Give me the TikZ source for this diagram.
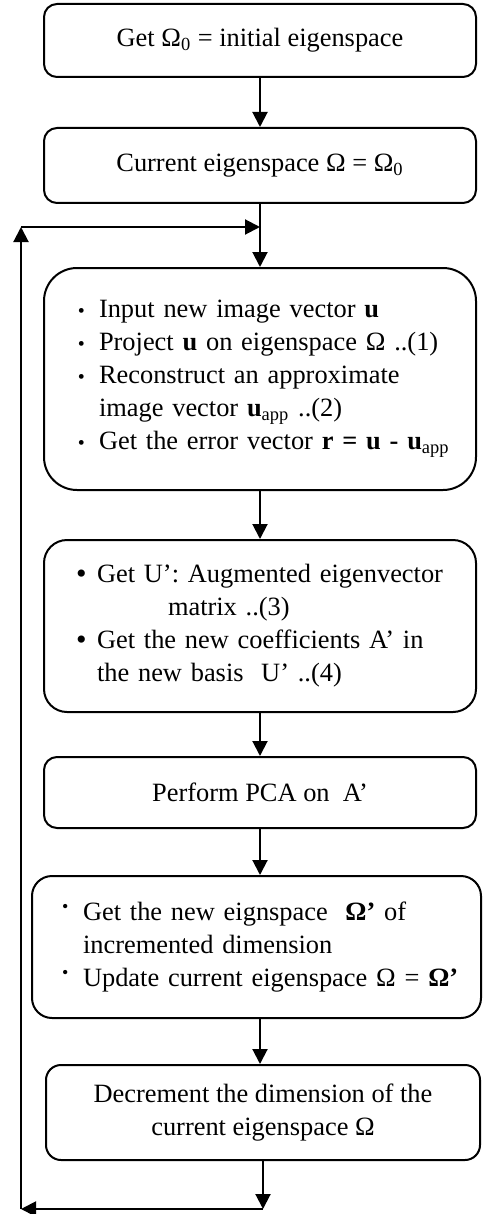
\documentclass[tikz,border=0pt]{standalone}
\usepackage{fontspec}
\setmainfont{Liberation Serif}
\usetikzlibrary{arrows.meta}
\newcommand\pointitem[3]{\noindent\leftskip=#1\hangindent=10.5pt\hangafter=1\makebox[10.5pt][l]{#2}#3\par}
\newcommand\lowdot{\raisebox{0pt}{\fontsize{10}{10}\selectfont\textbullet}}
\newcommand\bigdot{\raisebox{-0.5pt}{\fontsize{15}{15}\selectfont\textbullet}}
\newcommand\highdot{\raisebox{4pt}{\fontsize{9}{9}\selectfont\textbullet}}
\begin{document}
\begin{tikzpicture}[x=1pt, y=-1pt,
    stage/.style={draw, line width=1pt, rounded corners=6.5pt, minimum width=216pt,
        font=\fontsize{13.2}{16.5}\selectfont, align=center},
    listing/.style={stage, align=left, inner xsep=5pt, text width=206pt},
    flow/.style={line width=1pt, -{Triangle[length=7.5pt, width=7.5pt]}}]
    \useasboundingbox (0,0) rectangle (241,607);
    \node [stage, minimum height=36.5pt] (init) at (130,20.25)
        {Get Ω\textsubscript{0} = initial eigenspace};
    \node [stage, minimum height=37.5pt] (current) at (130,82.75)
        {Current eigenspace Ω = Ω\textsubscript{0}};
    \node [listing, rounded corners=16.5pt, minimum height=111pt] (project) at (130,189.5) {%
        \pointitem{12pt}{\lowdot}{Input new image vector \textbf{u}}
        \pointitem{12pt}{\lowdot}{Project \textbf{u} on eigenspace Ω ..(1)}
        \pointitem{12pt}{\lowdot}{Reconstruct an approximate\newline image vector \textbf{u}\textsubscript{app} ..(2)}
        \pointitem{12pt}{\lowdot}{Get the error vector \textbf{r = u - u}\textsubscript{app}}
        \vspace{15pt}};
    \node [listing, rounded corners=11.5pt, minimum height=86pt] (augment) at (130,313) {%
        \pointitem{11pt}{\bigdot}{Get U’: Augmented eigenvector\newline\hspace*{35.5pt}matrix ..(3)}
        \pointitem{11pt}{\bigdot}{Get the new coefficients A’ in\newline the new basis~ U’ ..(4)}};
    \node [stage, minimum height=35.5pt] (pca) at (130,396.25) {Perform PCA on~ A’};
    \node [listing, rounded corners=10pt, minimum height=71pt, minimum width=224.5pt, text width=214.5pt]
        (update) at (128.25,473.5) {%
        \pointitem{10pt}{\highdot}{Get the new eignspace~ \textbf{Ω’} of\newline incremented dimension}
        \pointitem{10pt}{\highdot}{Update current eigenspace Ω = \textbf{Ω’}}};
    \node [stage, rounded corners=7.5pt, minimum width=217pt, minimum height=47.5pt] (shrink) at (131.5,556.25)
        {Decrement the dimension of the\\current eigenspace Ω};
    % way back to the top of the loop
    \coordinate (turn) at (131.5,604.5);
    \coordinate (corner) at (10.5,604.5);
    \coordinate (rise) at (10.5,113.5);
    \coordinate (join) at (130,113.5);
    \draw [flow] (init) -- (current);
    \draw [flow] (current) -- (project);
    \draw [flow] (project) -- (augment);
    \draw [flow] (augment) -- (pca);
    \draw [flow] (pca.south) -- (update.north -| pca.south);
    \draw [flow] (update.south -| pca.south) -- (shrink.north -| pca.south);
    \draw [flow] (shrink.south) -- (turn);
    \draw [flow] (turn) -- (corner);
    \draw [flow] (corner) -- (rise);
    \draw [flow] (rise) -- (join);
\end{tikzpicture}
\end{document}
